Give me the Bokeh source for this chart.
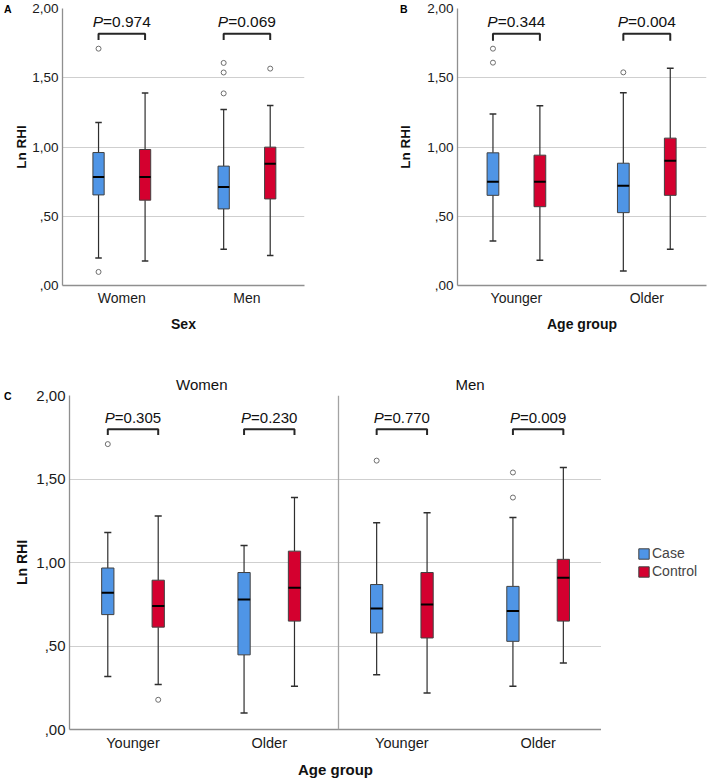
import numpy as np
from bokeh.plotting import figure
from bokeh.models import (Range1d, FixedTicker, Span, Legend, LegendItem, ColumnDataSource,
                          LinearAxis)
from bokeh.layouts import column, row
from bokeh.core.properties import value
from bokeh.embed import file_html
from bokeh.resources import INLINE

# ---------------- data ----------------
groups = ["Case", "Control"]
y_ticks = [0.0, 0.5, 1.0, 1.5, 2.0]
y_tick_labels = [",00", ",50", "1,00", "1,50", "2,00"]

# stats per box: [lower whisker, Q1, median, Q3, upper whisker]
# Panel A (Sex)
a_categories = ["Women", "Men"]
a_case = [[0.199, 0.654, 0.783, 0.960, 1.176],
          [0.261, 0.553, 0.711, 0.862, 1.270]]
a_ctrl = [[0.177, 0.616, 0.783, 0.982, 1.389],
          [0.216, 0.625, 0.879, 0.999, 1.300]]
a_case_out = [[1.710, 0.098], [1.607, 1.538, 1.387]]
a_ctrl_out = [[], [1.566]]
a_p = ["0.974", "0.069"]

# Panel B (Age group)
b_categories = ["Younger", "Older"]
b_case = [[0.321, 0.651, 0.750, 0.958, 1.238],
          [0.104, 0.526, 0.721, 0.883, 1.392]]
b_ctrl = [[0.183, 0.569, 0.750, 0.941, 1.298],
          [0.261, 0.651, 0.900, 1.064, 1.568]]
b_case_out = [[1.710, 1.609], [1.539]]
b_ctrl_out = [[], []]
b_p = ["0.344", "0.004"]

# Panel C (Age group by sex)
c_facets = ["Women", "Men"]
c_categories = ["Younger", "Older"]
cw_case = [[0.318, 0.688, 0.819, 0.967, 1.179],
           [0.099, 0.447, 0.779, 0.940, 1.102]]
cw_ctrl = [[0.269, 0.613, 0.740, 0.894, 1.278],
           [0.259, 0.649, 0.849, 1.068, 1.389]]
cw_case_out = [[1.709], []]
cw_ctrl_out = [[0.178], []]
cw_p = ["0.305", "0.230"]
cm_case = [[0.328, 0.578, 0.724, 0.868, 1.238],
           [0.259, 0.528, 0.710, 0.857, 1.270]]
cm_ctrl = [[0.218, 0.548, 0.748, 0.940, 1.298],
           [0.398, 0.649, 0.908, 1.019, 1.569]]
cm_case_out = [[1.610], [1.539, 1.389]]
cm_ctrl_out = [[], []]
cm_p = ["0.770", "0.009"]

# ---------------- style ----------------
FONT = "Liberation Sans"
CASE_COLOR = "#4F95E6"
CTRL_COLOR = "#D4002F"
EDGE = "#404040"
WHISK = "#2e2e2e"
GRID = "#cfcfcf"
AXIS = "#8f8f8f"
BW = 0.09     # box width (data units)
CW = 0.026    # cap half width


def style_axis(ax):
    ax.major_tick_out = 0
    ax.major_tick_in = 0
    ax.minor_tick_out = 0
    ax.minor_tick_in = 0
    ax.major_label_text_font = FONT
    ax.major_label_text_color = "#1a1a1a"
    ax.axis_label_text_font = FONT
    ax.axis_label_text_font_style = "bold"
    ax.axis_label_text_color = "#111111"


def base_fig(width, height, left, right, top, bottom, xr):
    p = figure(width=width, height=height, output_backend="svg", toolbar_location=None, tools="",
               x_range=Range1d(*xr), y_range=Range1d(0, 2),
               min_border_left=left, min_border_right=right,
               min_border_top=top, min_border_bottom=bottom)
    p.outline_line_color = None
    p.background_fill_color = "white"
    p.border_fill_color = "white"
    p.xgrid.visible = False
    p.ygrid.ticker = FixedTicker(ticks=[0.5, 1.0, 1.5, 2.0])
    p.ygrid.grid_line_color = GRID
    p.ygrid.grid_line_width = 1.2
    for ax in (p.xaxis[0], p.yaxis[0]):
        style_axis(ax)
        ax.axis_line_color = AXIS
        ax.axis_line_width = 1.3
    p.yaxis[0].ticker = FixedTicker(ticks=y_ticks)
    p.yaxis[0].major_label_overrides = dict(zip(y_ticks, y_tick_labels))
    return p


def add_letter(p, txt, standoff=0, size="10.5px"):
    # panel letter drawn as the outermost left-side tick label at the top of the scale
    ax = LinearAxis(ticker=FixedTicker(ticks=[2.0]), major_label_overrides={2.0: txt})
    style_axis(ax)
    ax.axis_line_color = None
    ax.major_label_standoff = standoff
    ax.major_label_text_font_style = "bold"
    ax.major_label_text_font_size = size
    ax.major_label_text_color = "#000000"
    p.add_layout(ax, "left")


def draw_boxes(p, centers, stats, outliers, color, offset):
    st = np.array(stats, dtype=float)
    x = np.array(centers, dtype=float) + offset
    low, q1, med, q3, high = st.T
    src = ColumnDataSource(dict(x=x, low=low, q1=q1, med=med, q3=q3, high=high,
                                xl=x - BW / 2, xr=x + BW / 2, cl=x - CW, cr=x + CW))
    p.segment(x0="x", y0="q3", x1="x", y1="high", source=src, line_color=WHISK, line_width=1.2)
    p.segment(x0="x", y0="low", x1="x", y1="q1", source=src, line_color=WHISK, line_width=1.2)
    p.segment(x0="cl", y0="high", x1="cr", y1="high", source=src, line_color=WHISK, line_width=1.5)
    p.segment(x0="cl", y0="low", x1="cr", y1="low", source=src, line_color=WHISK, line_width=1.5)
    r = p.vbar(x="x", width=BW, bottom="q1", top="q3", source=src,
               fill_color=color, line_color=EDGE, line_width=1)
    p.segment(x0="xl", y0="med", x1="xr", y1="med", source=src, line_color="black", line_width=2)
    ox, oy = [], []
    for xi, outs in zip(x, outliers):
        for o in outs:
            ox.append(xi)
            oy.append(o)
    if ox:
        p.scatter(ox, oy, marker="circle", size=5, fill_color="white",
                  line_color="#6e6e6e", line_width=1)
    return r


def draw_pvalues(p, centers, pvals, off, ybar, ydrop, ytext, fsize, split):
    xs, ys = [], []
    for c in centers:
        xs.append([c - off, c - off, c + off, c + off])
        ys.append([ydrop, ybar, ybar, ydrop])
    p.multi_line(xs, ys, line_color="#262626", line_width=2)
    n = len(centers)
    p.text(x=list(centers), y=[ytext] * n, text=["P"] * n, text_font=value(FONT),
           text_font_style="italic", text_font_size=fsize, text_align="right",
           text_baseline="middle", x_offset=split, text_color="#111111")
    p.text(x=list(centers), y=[ytext] * n, text=["=" + v for v in pvals], text_font=value(FONT),
           text_font_size=fsize, text_align="left", text_baseline="middle",
           x_offset=split, text_color="#111111")


# ---------------- Panel A ----------------
OFF_A = 0.186
pA = base_fig(354, 370, 54, 50, 8, 85, (-0.474, 1.46))
a_pos = [0, 1]
pA.xaxis[0].ticker = FixedTicker(ticks=a_pos)
pA.xaxis[0].major_label_overrides = dict(zip(a_pos, a_categories))
pA.xaxis[0].major_label_text_font_size = "14px"
pA.xaxis[0].major_label_standoff = 4
pA.xaxis[0].axis_label = "Sex"
pA.xaxis[0].axis_label_text_font_size = "14px"
pA.xaxis[0].axis_label_standoff = 7
pA.yaxis[0].major_label_text_font_size = "13.5px"
pA.yaxis[0].major_label_standoff = 4
pA.yaxis[0].axis_label = "Ln RHI"
pA.yaxis[0].axis_label_text_font_size = "13.5px"
pA.yaxis[0].axis_label_standoff = 0
draw_boxes(pA, a_pos, a_case, a_case_out, CASE_COLOR, -OFF_A)
draw_boxes(pA, a_pos, a_ctrl, a_ctrl_out, CTRL_COLOR, OFF_A)
draw_pvalues(pA, a_pos, a_p, OFF_A, 1.818, 1.772, 1.903, "15.5px", -18.8)
add_letter(pA, "A")

# ---------------- Panel B ----------------
OFF_B = 0.18
pB = base_fig(355, 370, 103, 3, 8, 85, (-0.452, 1.458))
b_pos = [0, 1]
pB.xaxis[0].ticker = FixedTicker(ticks=b_pos)
pB.xaxis[0].major_label_overrides = dict(zip(b_pos, b_categories))
pB.xaxis[0].major_label_text_font_size = "14px"
pB.xaxis[0].major_label_standoff = 4
pB.xaxis[0].axis_label = "Age group"
pB.xaxis[0].axis_label_text_font_size = "14px"
pB.xaxis[0].axis_label_standoff = 7
pB.yaxis[0].major_label_text_font_size = "13.5px"
pB.yaxis[0].major_label_standoff = 4
pB.yaxis[0].axis_label = "Ln RHI"
pB.yaxis[0].axis_label_text_font_size = "13.5px"
pB.yaxis[0].axis_label_standoff = 11
draw_boxes(pB, b_pos, b_case, b_case_out, CASE_COLOR, -OFF_B)
draw_boxes(pB, b_pos, b_ctrl, b_ctrl_out, CTRL_COLOR, OFF_B)
draw_pvalues(pB, b_pos, b_p, OFF_B, 1.817, 1.768, 1.903, "15.5px", -18.8)
add_letter(pB, "B", standoff=-12)

# ---------------- Panel C ----------------
OFF_C = 0.185
FACET_SHIFT = 1.973
pC = base_fig(601, 410, 63, 0, 25, 48, (-0.466, 3.438))
w_pos = [0, 1]
m_pos = [0 + FACET_SHIFT, 1 + FACET_SHIFT]
pC.xaxis[0].ticker = FixedTicker(ticks=w_pos + m_pos)
pC.xaxis[0].major_label_overrides = dict(zip(w_pos + m_pos, c_categories + c_categories))
pC.xaxis[0].major_label_text_font_size = "14.5px"
pC.xaxis[0].major_label_standoff = 5
pC.xaxis[0].axis_label = "Age group"
pC.xaxis[0].axis_label_text_font_size = "15px"
pC.xaxis[0].axis_label_standoff = 7
pC.yaxis[0].major_label_text_font_size = "15px"
pC.yaxis[0].major_label_standoff = 4
pC.yaxis[0].axis_label = "Ln RHI"
pC.yaxis[0].axis_label_text_font_size = "14px"
pC.yaxis[0].axis_label_standoff = 3

# facet separator between the Women and Men panels
pC.add_layout(Span(location=1.508, dimension="height", line_color="#a3a3a3", line_width=1.3))

# facet headers as a label-only axis above the frame
head_pos = [0.505, 0.505 + FACET_SHIFT - 0.005]
top_ax = LinearAxis(ticker=FixedTicker(ticks=head_pos),
                    major_label_overrides=dict(zip(head_pos, c_facets)))
style_axis(top_ax)
top_ax.axis_line_color = None
top_ax.major_label_standoff = 3
top_ax.major_label_text_font_size = "15px"
top_ax.major_label_text_color = "#111111"
pC.add_layout(top_ax, "above")

draw_boxes(pC, w_pos, cw_case, cw_case_out, CASE_COLOR, -OFF_C)
draw_boxes(pC, w_pos, cw_ctrl, cw_ctrl_out, CTRL_COLOR, OFF_C)
draw_boxes(pC, m_pos, cm_case, cm_case_out, CASE_COLOR, -OFF_C)
draw_boxes(pC, m_pos, cm_ctrl, cm_ctrl_out, CTRL_COLOR, OFF_C)
draw_pvalues(pC, w_pos, cw_p, OFF_C, 1.798, 1.763, 1.871, "15px", -18.2)
draw_pvalues(pC, m_pos, cm_p, OFF_C, 1.798, 1.763, 1.871, "15px", -18.2)
add_letter(pC, "C")

# ---------------- legend (separate strip to the right of panel C) ----------------
# the strip's frame is aligned with panel C's frame by the row layout
pL = figure(width=108, height=410, output_backend="svg", toolbar_location=None, tools="",
            x_axis_type=None, y_axis_type=None,
            x_range=Range1d(0, 1), y_range=Range1d(0, 1),
            min_border=0, min_border_left=0, min_border_right=0,
            min_border_top=25, min_border_bottom=48)
pL.grid.visible = False
pL.outline_line_color = None
pL.background_fill_color = "white"
pL.border_fill_color = "white"
swatches = []
for g, col in zip(groups, [CASE_COLOR, CTRL_COLOR]):
    # legend-only swatch renderers (no plotted marks)
    swatches.append(pL.vbar(x=[np.nan], top=[np.nan], bottom=[np.nan], width=0.1,
                            fill_color=col, line_color=EDGE, line_width=1))
legend = Legend(items=[LegendItem(label=g, renderers=[r]) for g, r in zip(groups, swatches)],
                location=(36, 150), border_line_color=None, background_fill_alpha=0,
                padding=0, margin=0, spacing=2, glyph_width=13, glyph_height=13,
                label_standoff=2, label_text_font=FONT, label_text_font_size="14px",
                label_height=13)
pL.add_layout(legend)

layout = column(row(pA, pB, spacing=0), row(pC, pL, spacing=0), spacing=0)
open("out.html", "w").write(file_html(layout, INLINE))
